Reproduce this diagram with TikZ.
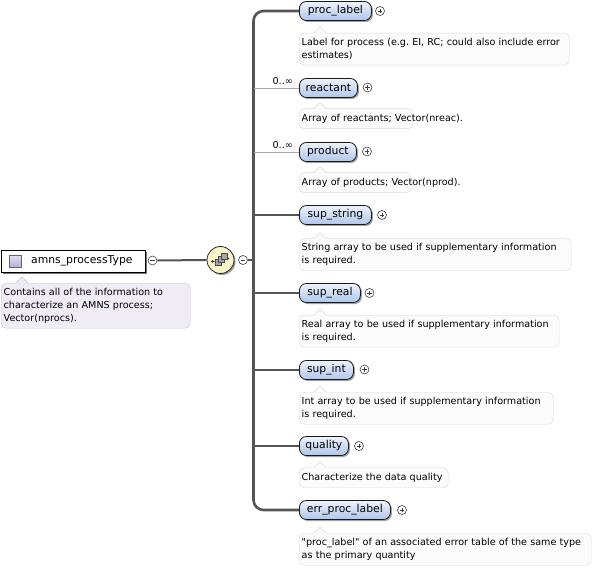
\documentclass[tikz,border=0pt]{standalone}
\usepackage{fontspec}
\setmainfont{DejaVu Sans}
\usetikzlibrary{shadows}
\frenchspacing
\definecolor{bubtop}{HTML}{EEF3FC}
\definecolor{bubbot}{HTML}{AFC6EC}
\definecolor{notefill}{HTML}{FBFBFB}
\definecolor{noteline}{HTML}{DADADA}
\definecolor{rootfill}{HTML}{EFECF6}
\definecolor{rootline}{HTML}{C6BEDA}
\definecolor{spinecol}{HTML}{555555}
\definecolor{thincol}{HTML}{A8A8A8}
\definecolor{seqfill}{HTML}{F9F5C8}
\definecolor{icontop}{HTML}{E4DEF4}
\definecolor{iconbot}{HTML}{B9ADE0}
\tikzset{
  elem/.style={draw=black!90, line width=0.8pt, rounded corners=7pt,
    top color=bubtop, bottom color=bubbot, anchor=west, minimum height=19pt,
    inner xsep=4pt, inner ysep=0pt, font=\fontsize{10.8}{12}\selectfont,
    drop shadow={shadow xshift=1.5pt, shadow yshift=-1.5pt, fill=black!45, opacity=0.8}},
  note/.style={draw=noteline, fill=notefill, rounded corners=5pt, anchor=north west,
    inner xsep=2.5pt, inner ysep=2pt, font=\fontsize{9.6}{13}\selectfont\frenchspacing, align=left},
  rootnote/.style={note, draw=rootline, fill=rootfill},
  pm/.style={circle, draw=black!75, fill=white, minimum size=9pt, inner sep=0pt, line width=0.6pt},
  plus/.style={pm, path picture={
    \draw[line width=0.6pt] ([xshift=-2.3pt]path picture bounding box.center) -- ([xshift=2.3pt]path picture bounding box.center);
    \draw[line width=0.6pt] ([yshift=-2.3pt]path picture bounding box.center) -- ([yshift=2.3pt]path picture bounding box.center);}},
  minus/.style={pm, path picture={
    \draw[line width=0.6pt] ([xshift=-2.3pt]path picture bounding box.center) -- ([xshift=2.3pt]path picture bounding box.center);}},
  spine/.style={draw=spinecol, line width=2.6pt},
  conn/.style={draw=spinecol, line width=2pt},
  thin/.style={draw=thincol, line width=0.8pt},
  card/.style={anchor=south east, inner sep=1pt, font=\fontsize{9.6}{10}\selectfont},
}
\begin{document}
\begin{tikzpicture}[x=1pt,y=-1pt]
\useasboundingbox[fill=white] (0,0) rectangle (599,569);

% root
\node[draw=black, line width=0.9pt, fill=white, anchor=north west, minimum width=144pt, minimum height=22pt,
  drop shadow={shadow xshift=1.5pt, shadow yshift=-1.5pt, fill=black!60, opacity=0.9}] (root) at (1,250) {};
\node[draw=black!60, line width=0.5pt, top color=icontop, bottom color=iconbot,
  minimum size=12pt, inner sep=0pt, anchor=west] (rooticon) at (9,261) {};
\node[anchor=west, inner sep=0pt, font=\fontsize{10.8}{12}\selectfont] (rootlabel) at (31,261) {amns\_processType};
\node[minus] (rootm) at (152.5,260.5) {};

\node[rootnote, text width=184pt, minimum height=45pt] (rootn) at (1,283) {\mbox{Contains all of the information to}\\\mbox{characterize an AMNS process;}\\\mbox{Vector(nprocs).}};
\fill[rootfill] (16,283.6) -- (22,277) -- (28,283.6) -- cycle;
\draw[rootline] (16,283) -- (22,277) -- (28,283);

% compositor
\node[circle, draw=black!85, line width=0.8pt, fill=seqfill, minimum size=27pt, inner sep=0pt,
  drop shadow={shadow xshift=1.5pt, shadow yshift=-1.5pt, fill=black!50, opacity=0.8}] (seq) at (220.5,260) {};
\begin{scope}[shift={(seq.center)}]
  \draw[black!80, line width=0.7pt] (-8,1.5) -- (8,-1.5);
  \fill[black!80] (-8,1.5) circle (1.3pt);
  \fill[black!80] (8.8,-1.5) -- (6.5,-3.5) -- (6.5,0.5) -- cycle;
  \filldraw[draw=black!70, fill=black!35, line width=0.4pt] (-5,5) rectangle ++(6,-6);
  \filldraw[draw=black!70, fill=black!35, line width=0.4pt] (-2,2) rectangle ++(6,-6);
  \filldraw[draw=black!70, fill=black!35, line width=0.4pt] (1,-1) rectangle ++(6,-6);
\end{scope}
\node[minus] (seqm) at (243,260) {};
\draw[conn] (rootm.east) -- (seq.west);
\coordinate (sp) at (253.5,260);
\draw[conn] (seqm.east) -- (sp);

% children
\node[elem, minimum width=72pt] (e1) at (299,11) {proc\_label};
\node[elem, minimum width=58pt] (e2) at (299,88) {reactant};
\node[elem, minimum width=57pt] (e3) at (299,152) {product};
\node[elem, minimum width=72pt] (e4) at (299,215) {sup\_string};
\node[elem, minimum width=61pt] (e5) at (299,293) {sup\_real};
\node[elem, minimum width=54pt] (e6) at (299,370) {sup\_int};
\node[elem, minimum width=49pt] (e7) at (299,446) {quality};
\node[elem, minimum width=91pt] (e8) at (299,510) {err\_proc\_label};

\node[plus] (p1) at (380,11) {};
\node[plus] (p2) at (367.5,87.5) {};
\node[plus] (p3) at (367,151.5) {};
\node[plus] (p4) at (382,215) {};
\node[plus] (p5) at (369.5,293) {};
\node[plus] (p6) at (364.5,369.5) {};
\node[plus] (p7) at (359,446) {};
\node[plus] (p8) at (402,510) {};

% spine and connectors
\draw[spine, rounded corners=10pt] (e1.west) -| (sp) |- (e8.west);
\draw[thin] (sp |- e2.west) -- (e2.west);
\draw[thin] (sp |- e3.west) -- (e3.west);
\draw[conn] (sp |- e4.west) -- (e4.west);
\draw[conn] (sp |- e5.west) -- (e5.west);
\draw[conn] (sp |- e6.west) -- (e6.west);
\draw[conn] (sp |- e7.west) -- (e7.west);
\node[card] (c2) at (294,86) {0..∞};
\node[card] (c3) at (294,150) {0..∞};

% notes
\node[note, text width=265pt, minimum height=32pt] (n1) at (299,33) {\mbox{Label for process (e.g. EI, RC; could also include error}\\\mbox{estimates)}};
\node[note, text width=109pt, minimum height=20pt] (n2) at (299,108.5) {\mbox{Array of reactants; Vector(nreac).}};
\node[note, text width=107pt, minimum height=20pt] (n3) at (299,172.5) {\mbox{Array of products; Vector(nprod).}};
\node[note, text width=267pt, minimum height=32pt] (n4) at (299,238.5) {\mbox{String array to be used if supplementary information}\\\mbox{is required.}};
\node[note, text width=255pt, minimum height=32pt] (n5) at (299,315) {\mbox{Real array to be used if supplementary information}\\\mbox{is required.}};
\node[note, text width=249pt, minimum height=32pt] (n6) at (299,392) {\mbox{Int array to be used if supplementary information}\\\mbox{is required.}};
\node[note, text width=144pt, minimum height=20pt] (n7) at (299,467.5) {\mbox{Characterize the data quality}};
\node[note, text width=287pt, minimum height=32pt] (n8) at (299,533) {\mbox{\textquotedbl proc\_label\textquotedbl{} of an associated error table of the same type}\\\mbox{as the primary quantity}};
\foreach \n in {n1,n2,n3,n4,n5,n6,n7,n8} {
  \fill[notefill] ([xshift=15pt,yshift=-0.6pt]\n.north west) -- ([xshift=21pt,yshift=6pt]\n.north west) -- ([xshift=27pt,yshift=-0.6pt]\n.north west) -- cycle;
  \draw[noteline] ([xshift=15pt]\n.north west) -- ([xshift=21pt,yshift=6pt]\n.north west) -- ([xshift=27pt]\n.north west);
}
\end{tikzpicture}
\end{document}
